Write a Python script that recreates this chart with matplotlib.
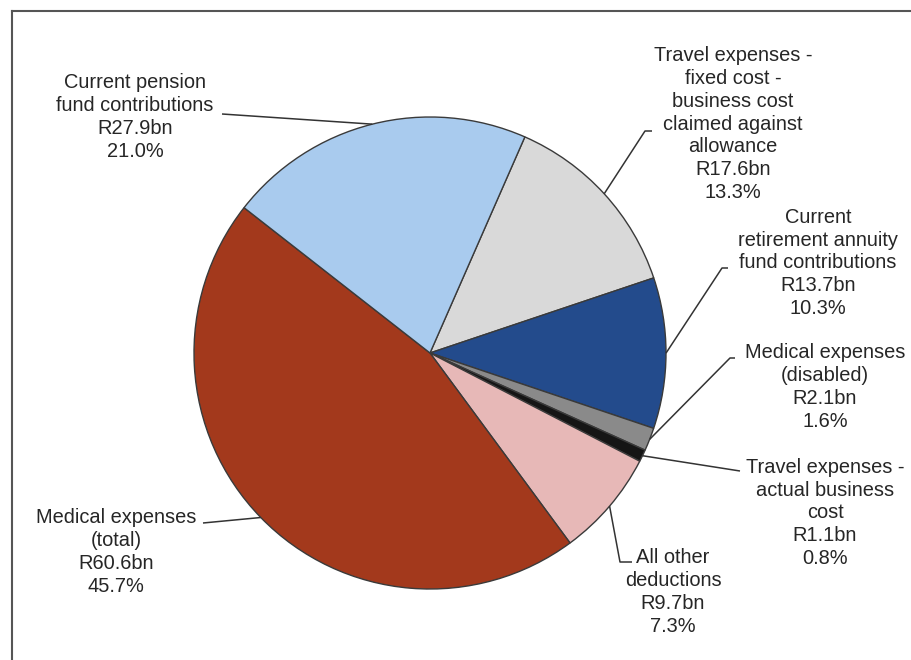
import numpy as np
import matplotlib
matplotlib.use("Agg")
import matplotlib.pyplot as plt

# deductions, in the order they go clockwise from the top
labels = ["Travel expenses -\nfixed cost -\nbusiness cost\nclaimed against\nallowance",
          "Current\nretirement annuity\nfund contributions",
          "Medical expenses\n(disabled)",
          "Travel expenses -\nactual business\ncost",
          "All other\ndeductions",
          "Medical expenses\n(total)",
          "Current pension\nfund contributions"]
values = [17.6, 13.7, 2.1, 1.1, 9.7, 60.6, 27.9]   # R bn
colors = ["#d9d9d9", "#234b8c", "#8a8a8a", "#151515", "#e7b8b7", "#a3391c", "#a9cbee"]

# label text centre (pixels) and leader elbow (pixels)
text_pos = [(733, 124), (818, 263), (825, 387), (825, 513), (673, 592), (116, 552), (135, 117)]
elbows = [[(652, 131), (645, 131)],
          [(728, 268), (722, 268)],
          [(735, 358), (730, 358)],
          [(740, 471)],
          [(632, 562), (620, 562)],
          [(203, 523)],
          [(222, 114)]]

W, H = 911, 660
cx, cy, r = 430, 353, 236

fig = plt.figure(figsize=(W / 100, H / 100), dpi=100)
ax = fig.add_axes([0, 0, 1, 1])

def P(x, y):
    return x, H - y

wedges, _ = ax.pie(values, colors=colors, startangle=66.3, counterclock=False,
                   center=P(cx, cy), radius=r, frame=True,
                   wedgeprops=dict(edgecolor="#3a3a3a", linewidth=1.0))
ax.set_xlim(0, W)
ax.set_ylim(0, H)
ax.set_aspect("equal")
ax.axis("off")

total = sum(values)
for w, lab, v, tp, el in zip(wedges, labels, values, text_pos, elbows):
    mid = np.deg2rad((w.theta1 + w.theta2) / 2)
    ex, ey = cx + r * np.cos(mid), cy - r * np.sin(mid)
    pts = el + [(ex, ey)]
    xs = [p[0] for p in pts]
    ys = [H - p[1] for p in pts]
    ax.plot(xs, ys, color="#333333", lw=1.1, solid_capstyle="butt")
    txt = f"{lab}\nR{v}bn\n{v / total * 100:.1f}%"
    ax.text(*P(*tp), txt, ha="center", va="center", fontsize=14.4,
            family="Liberation Sans", color="#262626", linespacing=1.25)

# chart frame (left and top edges visible)
ax.plot([12, 12], [0, H - 11], color="#555555", lw=1.5)
ax.plot([12, W], [H - 11, H - 11], color="#555555", lw=1.5)

fig.savefig("out.png", dpi=100)
